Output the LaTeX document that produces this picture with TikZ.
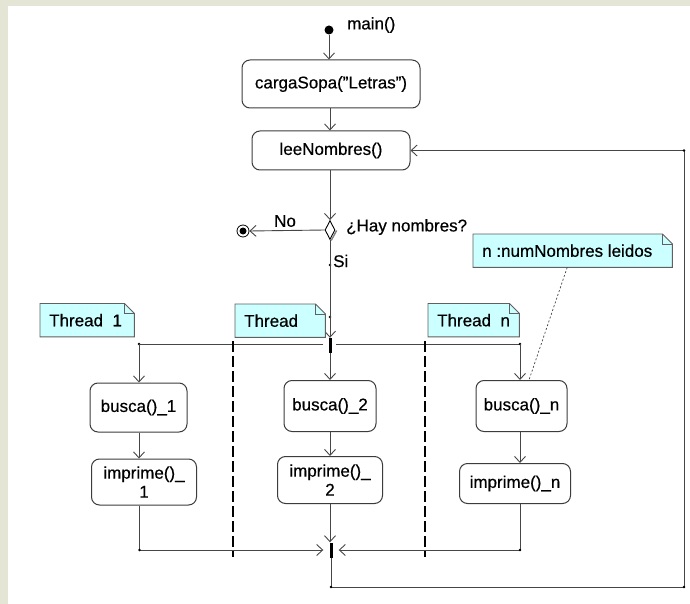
\documentclass[tikz,border=0pt]{standalone}
\usepackage{fontspec}
\setmainfont{Liberation Sans}[FakeBold=0.5]
\usetikzlibrary{arrows.meta,shapes.geometric,calc}
\definecolor{bgbeige}{RGB}{229,229,214}
\definecolor{notefill}{RGB}{204,255,255}
\definecolor{notegray}{RGB}{96,96,96}
\definecolor{linegray}{RGB}{70,70,70}
\definecolor{boxgray}{RGB}{60,60,60}
\newcommand\mknote[6]{%
  \node[anchor=north west, minimum width=#4pt, minimum height=#5pt, inner sep=0pt] (#1) at (#2,#3) {};
  \path[notebody] (#1.south west) -- (#1.north west) -- ([xshift=-10pt]#1.north east) -- ([yshift=-10pt]#1.north east) -- (#1.south east) -- cycle;
  \draw[notefold] ([xshift=-10pt]#1.north east) |- ([yshift=-10pt]#1.north east);
  \node[anchor=west, inner sep=0pt] (#1txt) at ([xshift=9pt]#1.west) {#6};
}
\begin{document}
\begin{tikzpicture}[x=1pt,y=-1pt,
  every node/.style={font=\fontsize{17}{20}\selectfont},
  act/.style={draw=boxgray, line width=1pt, rounded corners=8pt, fill=white, inner sep=0pt, align=center},
  conn/.style={draw=linegray, line width=0.9pt},
  arr/.style={conn, -{Straight Barb[length=6pt,width=11pt]}},
  barnode/.style={fill=black, inner sep=0pt, minimum width=3pt, minimum height=15pt},
  jdot/.style={fill=black},
  dashline/.style={draw=black, line width=1.8pt, dash pattern=on 11pt off 4pt},
  notebody/.style={fill=notefill, draw=notegray, line width=0.9pt},
  notefold/.style={draw=notegray, line width=0.9pt},
  dotline/.style={draw=linegray, line width=0.7pt, dash pattern=on 2pt off 2pt}
]
% background
\fill[bgbeige] (0,0) rectangle (690,604);
\fill[white] (8,6) rectangle (690,604);

% top part
\node[circle, fill=black, inner sep=0pt, minimum size=9pt] (start) at (329,30) {};
\node[anchor=west, inner sep=0pt] (mainlbl) at (347,25) {main()};
\node[act, minimum width=178pt, minimum height=48pt] (carga) at (331,84) {cargaSopa(\symbol{34}Letras\symbol{34})};
\node[act, minimum width=158pt, minimum height=39pt] (lee) at (331,150.5) {leeNombres()};
\draw[arr] (start.south) -- (start.south |- carga.north);
\draw[arr] (carga.south -| 330,0) -- (330,0 |- lee.north);

% decision
\node[diamond, draw=black, line width=0.9pt, fill=white, inner sep=0pt, minimum width=10pt, minimum height=19pt] (dec) at (330,230) {};
\draw[gray, line width=1.4pt] ([xshift=1.2pt,yshift=-0.5pt]dec.east) -- ([xshift=1.2pt,yshift=-0.5pt]dec.south);
\draw[arr] (lee.south -| dec.north) -- (dec.north);
\node[anchor=west, inner sep=0pt] (q) at (346,227) {¿Hay nombres?};
\node[circle, draw=black, fill=white, line width=0.8pt, inner sep=0pt, minimum size=12pt] (fin) at (243,231) {};
\node[circle, fill=black, inner sep=0pt, minimum size=7pt] (finin) at (fin) {};
\draw[arr] (dec.west) -- (fin.east);
\node[inner sep=0pt] (nolbl) at (285,221) {No};

% Si
\coordinate (siP) at (330,265);
\fill[jdot] (siP) circle (1.3pt);
\node[anchor=west, inner sep=0pt] (si) at (333,261) {Si};
\coordinate (midP) at (330,317);
\fill[jdot] (midP) circle (1.3pt);

% fork
\node[barnode] (fork) at (330,345.5) {};
\draw[arr] (dec.south) -- (fork.north);
\coordinate (forkL) at (323,344);
\coordinate (forkR) at (336,344);
\coordinate (fl) at (139,344);
\coordinate (fr) at (520,344);
\draw[conn] (forkL) -- (fl);
\draw[conn] (forkR) -- (fr);
\fill[jdot] (fl) circle (1.3pt);
\fill[jdot] (fr) circle (1.3pt);

% activity boxes
\node[act, minimum width=97pt, minimum height=49pt] (busca1) at (138.5,407.5) {busca()\_1};
\node[act, minimum width=92pt, minimum height=51pt] (busca2) at (330,406) {busca()\_2};
\node[act, minimum width=91pt, minimum height=51pt] (buscan) at (521.5,406) {busca()\_n};
\node[act, minimum width=105pt, minimum height=46pt] (imp1) at (144,482) {imprime()\_\\[-1pt]1};
\node[act, minimum width=105pt, minimum height=47pt] (imp2) at (330,480) {imprime()\_\\[-1pt]2};
\node[act, minimum width=111pt, minimum height=40pt] (impn) at (515,483.5) {imprime()\_n};

\draw[arr] (fl) -- (fl |- busca1.north);
\draw[arr] (fork.south) -- (fork.south |- busca2.north);
\draw[arr] (fr) -- (fr |- buscan.north);
\draw[arr] (fl |- busca1.south) -- (fl |- imp1.north);
\draw[arr] (busca2.south) -- (busca2.south |- imp2.north);
\draw[arr] (fr |- buscan.south) -- (fr |- impn.north);

% join
\node[barnode] (join) at (331,550) {};
\coordinate (jl) at (139.5,550);
\coordinate (jr) at (520,550);
\draw[arr] (jl |- imp1.south) -- (jl) -- ($(join.west)+(-6,0)$);
\draw[arr] (jr |- impn.south) -- (jr) -- ($(join.east)+(6,0)$);
\draw[arr] (imp2.south) -- (imp2.south |- join.north);
\fill[jdot] (jl) circle (1.3pt);
\fill[jdot] (jr) circle (1.3pt);

% loop back
\coordinate (lb) at (331,587);
\coordinate (rb) at (684,587);
\coordinate (rt) at (684,150.5);
\draw[arr] (join.south) -- (lb) -- (rb) -- (rt) -- (lee.east);
\fill[jdot] (lb) circle (1.3pt);
\fill[jdot] (rb) circle (1.3pt);
\fill[jdot] (rt) circle (1.3pt);

% swimlane separators
\coordinate (d1t) at (233,341);
\coordinate (d1b) at (233,557);
\coordinate (d2t) at (425,341);
\coordinate (d2b) at (425,557);
\draw[dashline] (d1t) -- (d1b);
\draw[dashline] (d2t) -- (d2b);

% notes
\mknote{t1}{40}{303.5}{94}{33}{Thread~~1}
\mknote{t2}{235}{304}{90}{33}{Thread}
\mknote{t3}{428}{303.5}{91}{33}{Thread~~n}
\mknote{nn}{473}{234}{199}{33}{n :numNombres leidos}
\draw[dotline] ([xshift=-5.5pt]nn.south) -- ([xshift=7.5pt]buscan.north);
\end{tikzpicture}
\end{document}
